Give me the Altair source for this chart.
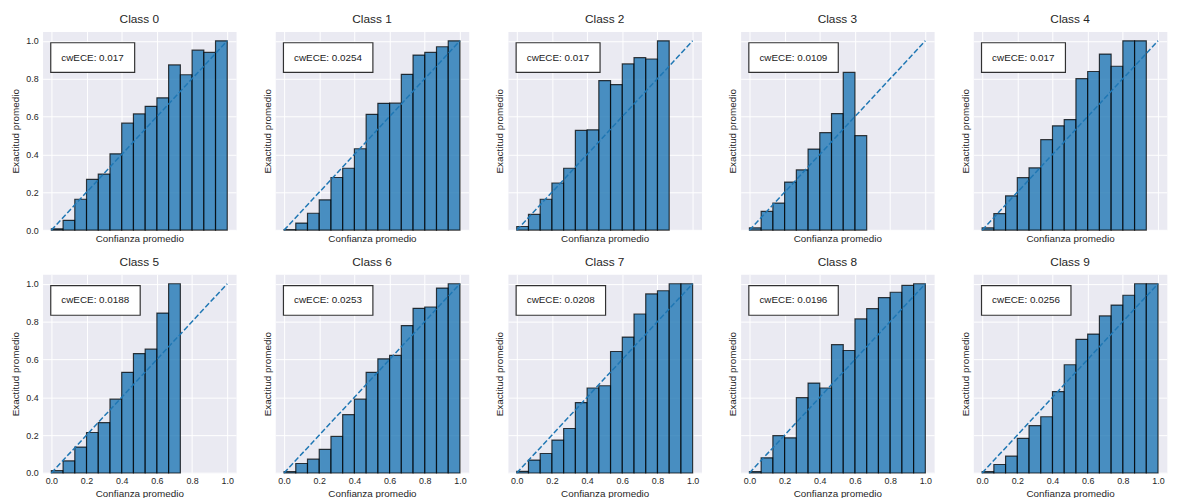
import altair as alt
import pandas as pd

class_names = [f"Class {i}" for i in range(10)]
ece_labels = ["0.017", "0.0254", "0.017", "0.0109", "0.017",
              "0.0188", "0.0253", "0.0208", "0.0196", "0.0256"]

acc_c0 = [0.007, 0.052, 0.163, 0.268, 0.296, 0.403, 0.565, 0.614, 0.654, 0.699, 0.873, 0.821, 0.951, 0.939, 1.0]
acc_c1 = [0.003, 0.037, 0.089, 0.160, 0.278, 0.327, 0.430, 0.612, 0.670, 0.671, 0.823, 0.925, 0.939, 0.969, 1.0]
acc_c2 = [0.019, 0.083, 0.163, 0.249, 0.327, 0.527, 0.530, 0.790, 0.769, 0.878, 0.911, 0.904, 1.0]
acc_c3 = [0.012, 0.099, 0.143, 0.254, 0.318, 0.428, 0.515, 0.616, 0.833, 0.499]
acc_c4 = [0.012, 0.087, 0.181, 0.277, 0.329, 0.478, 0.551, 0.584, 0.800, 0.838, 0.930, 0.866, 1.0, 1.0]
acc_c5 = [0.012, 0.064, 0.137, 0.214, 0.266, 0.390, 0.532, 0.631, 0.654, 0.845, 1.0]
acc_c6 = [0.007, 0.050, 0.073, 0.125, 0.193, 0.308, 0.390, 0.532, 0.603, 0.621, 0.779, 0.870, 0.877, 0.977, 1.0]
acc_c7 = [0.009, 0.068, 0.103, 0.174, 0.235, 0.372, 0.449, 0.461, 0.642, 0.718, 0.840, 0.946, 0.963, 1.0, 1.0]
acc_c8 = [0.007, 0.080, 0.197, 0.186, 0.398, 0.475, 0.449, 0.678, 0.647, 0.814, 0.868, 0.927, 0.955, 0.991, 1.0]
acc_c9 = [0.007, 0.045, 0.089, 0.183, 0.250, 0.297, 0.430, 0.572, 0.706, 0.734, 0.830, 0.887, 0.939, 1.0, 1.0]

accs = [acc_c0, acc_c1, acc_c2, acc_c3, acc_c4, acc_c5, acc_c6, acc_c7, acc_c8, acc_c9]
n_bins = 15
tick_vals = [0.0, 0.2, 0.4, 0.6, 0.8, 1.0]
diag_x = [0.0, 1.0]
diag_y = [0.0, 1.0]

FONT = "Liberation Sans"
TXT = "#262626"
W, H = 196, 201.3

xscale = alt.Scale(domain=[-0.05, 1.05], nice=False, zero=False)
yscale = alt.Scale(domain=[0, 1.05], nice=False, zero=False)


def panel(k):
    row, col = divmod(k, 5)
    bars = pd.DataFrame({
        "lo": [i / n_bins for i in range(len(accs[k]))],
        "hi": [(i + 1) / n_bins for i in range(len(accs[k]))],
        "acc": accs[k],
        "zero": [0.0] * len(accs[k]),
    })
    xaxis = alt.Axis(values=tick_vals, format=".1f", labels=(row == 1),
                     title="Confianza promedio", grid=True, gridColor="white",
                     gridWidth=1, domain=False, ticks=False, labelPadding=4,
                     labelOverlap=False, labelFlush=False, labelBound=False,
                     labelSeparation=0,
                     titlePadding=(3 if row == 1 else 4), labelFontSize=9,
                     titleFontSize=10, labelFont=FONT, titleFont=FONT,
                     labelColor=TXT, titleColor=TXT, titleFontWeight="normal")
    yaxis = alt.Axis(values=tick_vals, format=".1f", labels=(col == 0),
                     title="Exactitud promedio", grid=True, gridColor="white",
                     gridWidth=1, domain=False, ticks=False, labelPadding=4.5,
                     labelOverlap=False, labelFlush=False,
                     titlePadding=(5 if col == 0 else 3), labelFontSize=9,
                     titleFontSize=10, labelFont=FONT, titleFont=FONT,
                     labelColor=TXT, titleColor=TXT, titleFontWeight="normal")
    b = alt.Chart(bars).mark_rect(
        fill="#1f77b4", fillOpacity=0.8, stroke="black", strokeOpacity=0.75,
        strokeWidth=1.2
    ).encode(
        x=alt.X("lo:Q", scale=xscale, axis=xaxis),
        x2="hi:Q",
        y=alt.Y("acc:Q", scale=yscale, axis=yaxis),
        y2="zero:Q",
    )
    d = alt.Chart(pd.DataFrame({"x": diag_x, "y": diag_y})).mark_line(
        color="#1f77b4", strokeDash=[5.5, 2.4], strokeWidth=1.5
    ).encode(x=alt.X("x:Q", scale=xscale, axis=xaxis),
             y=alt.Y("y:Q", scale=yscale, axis=yaxis))
    label = "cwECE: " + ece_labels[k]
    bw = 85 + 5.6 * (len(label) - 12)
    lab_df = pd.DataFrame({"t": [label]})
    box = alt.Chart(lab_df).mark_rect(
        fill="white", stroke="black", strokeOpacity=0.8, strokeWidth=1.2
    ).encode(x=alt.value(8.3), x2=alt.value(8.3 + bw),
             y=alt.value(11.5), y2=alt.value(41.5))
    txt = alt.Chart(lab_df).mark_text(
        font=FONT, fontSize=10, color="#222222", align="left", baseline="middle"
    ).encode(x=alt.value(19), y=alt.value(26.5), text="t:N")
    return alt.layer(b, d, box, txt).properties(
        width=W, height=H,
        title=alt.TitleParams(class_names[k], fontSize=12, font=FONT,
                              fontWeight="normal", color=TXT, offset=5,
                              anchor="middle"),
    )


chart = alt.concat(
    *[panel(k) for k in range(10)], columns=5,
    spacing={"row": 44, "column": 39.7}, bounds="flush"
).properties(
    padding={"left": 2, "top": 2.5, "right": 2, "bottom": 0}
).configure_view(fill="#EAEAF2", strokeOpacity=0)

chart.save("out.html", embed_options={"renderer": "svg", "actions": False})
